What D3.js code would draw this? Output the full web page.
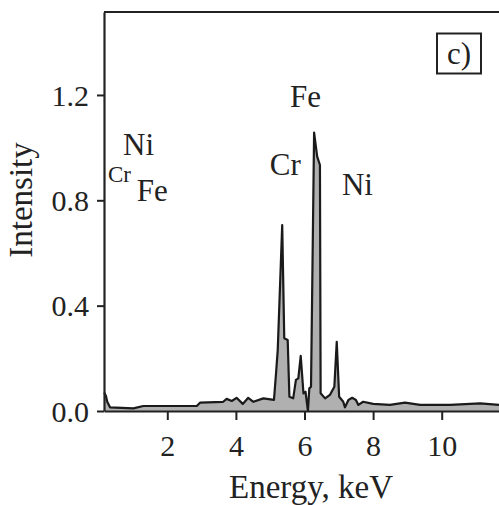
<!DOCTYPE html>
<html><head><meta charset="utf-8">
<script src="https://cdn.jsdelivr.net/npm/d3@7"></script>
<style>body{margin:0;background:#fff}svg{display:block}text{font-family:"Liberation Serif","Times New Roman",serif;fill:#222}</style>
</head><body>
<script>
const energy = [0.16,0.21,0.25,0.33,1.01,1.3,2.86,2.96,3.63,3.73,3.88,4.02,4.2,4.36,4.51,4.8,5.11,5.17,5.22,5.35,5.41,5.51,5.56,5.67,5.75,5.82,5.89,5.97,6.03,6.1,6.14,6.19,6.28,6.37,6.45,6.47,6.6,6.74,6.87,6.94,7.01,7.13,7.18,7.28,7.39,7.5,7.57,7.71,8.0,8.49,8.93,9.37,10.24,11.12,11.67];
const intensity = [0.07,0.058,0.035,0.014,0.01,0.019,0.019,0.032,0.035,0.046,0.038,0.05,0.027,0.05,0.035,0.048,0.042,0.143,0.232,0.706,0.276,0.27,0.054,0.048,0.118,0.124,0.209,0.067,0.073,0.0,0.086,0.092,1.057,0.966,0.934,0.067,0.048,0.061,0.092,0.263,0.054,0.035,0.014,0.042,0.05,0.042,0.023,0.035,0.027,0.023,0.032,0.023,0.023,0.029,0.023];
const xTicks = [2,4,6,8,10];
const yTicks = [0.0,0.4,0.8,1.2];
const peakLabels = [
  {text:"Fe", e:5.58, v:1.156, size:31},
  {text:"Cr", e:4.99, v:0.896, size:31},
  {text:"Ni", e:7.09, v:0.82, size:31},
  {text:"Ni", e:0.71, v:0.972, size:31},
  {text:"Cr", e:0.27, v:0.87, size:23},
  {text:"Fe", e:1.11, v:0.798, size:31}
];

const W=499,H=505;
const svg=d3.select("body").append("svg").attr("width",W).attr("height",H);
const x=d3.scaleLinear().domain([0.155,11.67]).range([104,499]);
const y=d3.scaleLinear().domain([0,1.515]).range([411,12]);

const data=energy.map((e,i)=>({e,v:intensity[i]}));
svg.append("path").datum(data)
  .attr("d",d3.area().x(d=>x(d.e)).y0(y(0)).y1(d=>y(d.v)))
  .attr("fill","#b0b0b0");
svg.append("path").datum(data)
  .attr("d",d3.line().x(d=>x(d.e)).y(d=>y(d.v)))
  .attr("fill","none").attr("stroke","#1a1a1a").attr("stroke-width",2.2).attr("stroke-linejoin","round");

// axes
const gx=svg.append("g").attr("transform",`translate(0,${y(0)})`)
  .call(d3.axisBottom(x).tickValues(xTicks).tickSize(9).tickSizeOuter(0).tickFormat(d3.format("d")));
gx.select(".domain").attr("stroke","#222").attr("stroke-width",2.2);
gx.selectAll(".tick line").attr("stroke","#222").attr("stroke-width",2);
gx.selectAll(".tick text").attr("font-size",30).attr("dy",0).attr("y",45).style("font-family","Liberation Serif").attr("fill","#222");

const gy=svg.append("g").attr("transform",`translate(${x.range()[0]},0)`)
  .call(d3.axisLeft(y).tickValues(yTicks).tickSize(7).tickSizeOuter(0).tickFormat(d3.format(".1f")));
gy.select(".domain").attr("stroke","#222").attr("stroke-width",2.2);
gy.selectAll(".tick line").attr("stroke","#222").attr("stroke-width",2);
gy.selectAll(".tick text").attr("font-size",30).attr("x",-15).attr("dy","0.34em").style("font-family","Liberation Serif").attr("fill","#222");

// top border
svg.append("line").attr("x1",x.range()[0]).attr("x2",W).attr("y1",y(y.domain()[1])).attr("y2",y(y.domain()[1]))
  .attr("stroke","#222").attr("stroke-width",2.2);

// titles
svg.append("text").attr("x",311).attr("y",498).attr("text-anchor","middle").attr("font-size",33).text("Energy, keV");
svg.append("text").attr("transform","translate(32,200) rotate(-90)").attr("text-anchor","middle").attr("font-size",33).text("Intensity");

// peak labels
svg.selectAll("text.pk").data(peakLabels).enter().append("text").attr("class","pk")
  .attr("x",d=>x(d.e)).attr("y",d=>y(d.v)).attr("font-size",d=>d.size).text(d=>d.text);

// panel label
svg.append("rect").attr("x",437).attr("y",33.5).attr("width",44).attr("height",40).attr("fill","none").attr("stroke","#222").attr("stroke-width",2);
svg.append("text").attr("x",459).attr("y",64).attr("text-anchor","middle").attr("font-size",31).text("c)");
</script>
</body></html>
